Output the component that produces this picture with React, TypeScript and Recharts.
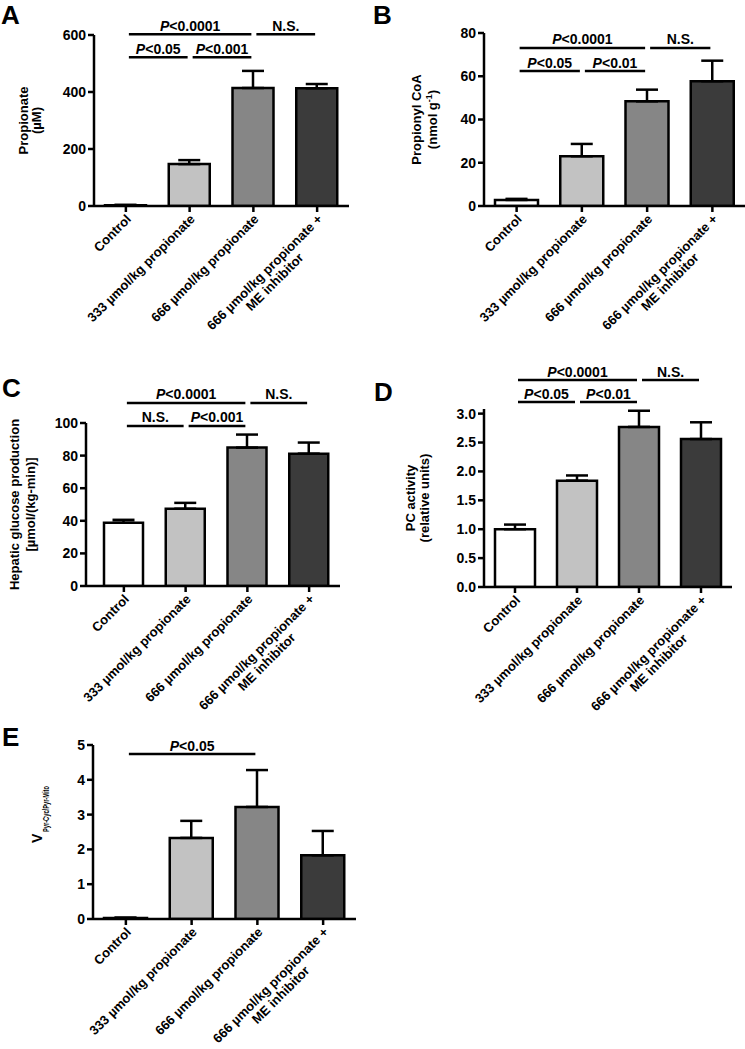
import React from 'react';
import { BarChart, Bar, XAxis, YAxis, ErrorBar, Cell, ReferenceLine } from 'recharts';

const FONT = '"Liberation Sans", Arial, Helvetica, sans-serif';

// ---------- categories ----------
const categories = [
  'Control',
  '333 µmol/kg propionate',
  '666 µmol/kg propionate',
  '666 µmol/kg propionate + ME inhibitor',
];
const categoryLines = [
  ['Control'],
  ['333 µmol/kg propionate'],
  ['666 µmol/kg propionate'],
  ['666 µmol/kg propionate +', 'ME inhibitor'],
];
const barColors = ['#ffffff', '#c2c2c2', '#868686', '#3b3b3b'];

// ---------- A: plasma propionate ----------
const propionateMean = [3, 147, 414, 413];
const propionateSem = [1, 14, 60, 15];
const propionateTicks = [0, 200, 400, 600];
const propionateSig: [number, number, number, string][] = [
  [0, 2, 603, 'P<0.0001'],
  [2, 3, 603, 'N.S.'],
  [0, 1, 522, 'P<0.05'],
  [1, 2, 522, 'P<0.001'],
];

// ---------- B: propionyl CoA ----------
const propionylCoaMean = [2.8, 23, 48.4, 57.7];
const propionylCoaSem = [0.5, 5.7, 5.4, 9.5];
const propionylCoaTicks = [0, 20, 40, 60, 80];
const propionylCoaSig: [number, number, number, string][] = [
  [0, 2, 73.1, 'P<0.0001'],
  [2, 3, 73.1, 'N.S.'],
  [0, 1, 62.4, 'P<0.05'],
  [1, 2, 62.4, 'P<0.01'],
];

// ---------- C: hepatic glucose production ----------
const hgpMean = [38.8, 47.4, 84.9, 81.2];
const hgpSem = [1.8, 3.6, 8.0, 6.8];
const hgpTicks = [0, 20, 40, 60, 80, 100];
const hgpSig: [number, number, number, string][] = [
  [0, 2, 112.3, 'P<0.0001'],
  [2, 3, 112.3, 'N.S.'],
  [0, 1, 98.2, 'N.S.'],
  [1, 2, 98.2, 'P<0.001'],
];

// ---------- D: PC activity ----------
const pcMean = [1.0, 1.84, 2.77, 2.56];
const pcSem = [0.08, 0.09, 0.28, 0.29];
const pcTicks = [0, 0.5, 1.0, 1.5, 2.0, 2.5, 3.0];
const pcSig: [number, number, number, string][] = [
  [0, 2, 3.58, 'P<0.0001'],
  [2, 3, 3.58, 'N.S.'],
  [0, 1, 3.2, 'P<0.05'],
  [1, 2, 3.2, 'P<0.01'],
];

// ---------- E: VPyr-Cyc/Pyr-Mito ----------
const vcycMean = [0.03, 2.33, 3.22, 1.83];
const vcycSem = [0.01, 0.49, 1.06, 0.7];
const vcycTicks = [0, 1, 2, 3, 4, 5];
const vcycSig: [number, number, number, string][] = [[0, 2, 4.74, 'P<0.05']];

const axisStyle = { stroke: '#000', strokeWidth: 2.5 };
const yTickStyle = { fill: '#000', fontSize: 14, fontWeight: 'bold', fontFamily: FONT };

function SigText({ text }: { text: string }) {
  if (text.startsWith('P')) {
    return (
      <>
        <tspan fontStyle="italic">P</tspan>
        <tspan>{text.slice(1)}</tspan>
      </>
    );
  }
  return <>{text}</>;
}

const makeSigShape = (text: string) => (p: any) => {
  const x1 = p.x1 + 3;
  const x2 = p.x2 - 2;
  const y = p.y1;
  return (
    <g>
      <line x1={x1} x2={x2} y1={y} y2={y} stroke="#000" strokeWidth={2.5} />
      <text
        x={(x1 + x2) / 2}
        y={y - 3.5}
        textAnchor="middle"
        fontFamily={FONT}
        fontWeight="bold"
        fontSize={14}
        fill="#000"
      >
        <SigText text={text} />
      </text>
    </g>
  );
};

const XTick = (props: any) => {
  const { x, y, payload } = props;
  const idx = categories.indexOf(payload.value);
  const lines = categoryLines[idx] || [String(payload.value)];
  const common = { fontFamily: FONT, fontWeight: 'bold' as const, fontSize: 13, fill: '#000' };
  return (
    <g transform={`translate(${x + 6},${y + 6}) rotate(-45)`}>
      <text {...common} textAnchor="end" x={0} y={0}>
        {lines[0]}
      </text>
      {lines.length > 1 && (
        <text {...common} textAnchor="middle" x={-78} y={14}>
          {lines[1]}
        </text>
      )}
    </g>
  );
};

const labelText = { textAnchor: 'middle' as const, fontFamily: FONT, fontWeight: 'bold' as const, fontSize: 13, fill: '#000' };

const twoLineLabel = (line1: React.ReactNode, line2: React.ReactNode, off1: number, off2: number) => (props: any) => {
  const vb = props.viewBox;
  const px = vb.x + vb.width;
  const cy = vb.y + vb.height / 2;
  return (
    <g>
      <text {...labelText} transform={`translate(${px + off1},${cy}) rotate(-90)`}>{line1}</text>
      <text {...labelText} transform={`translate(${px + off2},${cy}) rotate(-90)`}>{line2}</text>
    </g>
  );
};

const vLabel = (props: any) => {
  const vb = props.viewBox;
  const px = vb.x + vb.width;
  const cy = vb.y + vb.height / 2;
  return (
    <g>
      <text
        fontFamily={FONT}
        fontWeight="bold"
        fontSize={14}
        fill="#000"
        textAnchor="start"
        transform={`translate(${px - 51},${cy + 11}) rotate(-90)`}
      >
        V
      </text>
      <text
        fontFamily={FONT}
        fontWeight="bold"
        fontSize={9.5}
        fill="#000"
        textAnchor="start"
        textLength={46}
        lengthAdjust="spacingAndGlyphs"
        transform={`translate(${px - 44.5},${cy}) rotate(-90)`}
      >
        Pyr-Cyc/Pyr-Mito
      </text>
    </g>
  );
};

type PanelProps = {
  left: number;
  top: number;
  width: number;
  height: number;
  margin: { top: number; right: number; bottom: number; left: number };
  yWidth: number;
  xHeight: number;
  domain: [number, number];
  ticks: number[];
  mean: number[];
  sem: number[];
  sig: [number, number, number, string][];
  barSize: number;
  yLabel: (p: any) => React.ReactNode;
  xPad?: { left: number; right: number };
  tickFmt?: (v: number) => string;
};

function Panel(props: PanelProps) {
  const data = categories.map((name, i) => ({
    name,
    value: props.mean[i],
    err: [0, props.sem[i]],
  }));
  return (
    <div style={{ position: 'absolute', left: props.left, top: props.top }}>
      <BarChart width={props.width} height={props.height} data={data} margin={props.margin}>
        <XAxis
          dataKey="name"
          interval={0}
          height={props.xHeight}
          tick={<XTick />}
          tickLine={axisStyle}
          axisLine={axisStyle}
          tickSize={6}
          tickMargin={2}
          padding={props.xPad || { left: 0, right: 0 }}
        />
        <YAxis
          type="number"
          domain={props.domain}
          ticks={props.ticks}
          width={props.yWidth}
          tick={yTickStyle}
          tickLine={axisStyle}
          axisLine={axisStyle}
          tickSize={6}
          tickMargin={2}
          interval={0}
          allowDataOverflow
          tickFormatter={props.tickFmt}
          label={props.yLabel}
        />
        <Bar dataKey="value" barSize={props.barSize} stroke="#000" strokeWidth={2.5} isAnimationActive={false}>
          {data.map((d, i) => (
            <Cell key={d.name} fill={barColors[i]} />
          ))}
          <ErrorBar dataKey="err" direction="y" width={11} stroke="#000" strokeWidth={2.5} isAnimationActive={false} />
        </Bar>
        {props.sig.map(([a, b, y, text], i) => (
          <ReferenceLine
            key={i}
            segment={[
              { x: categories[a], y },
              { x: categories[b], y },
            ]}
            ifOverflow="visible"
            shape={makeSigShape(text)}
          />
        ))}
      </BarChart>
    </div>
  );
}

const letters: [string, number, number][] = [
  ['A', 1, 24],
  ['B', 373, 24],
  ['C', 2, 397],
  ['D', 374, 401],
  ['E', 2, 746],
];

export default function App() {
  return (
    <div style={{ position: 'absolute', left: 0, top: 0, width: 745, height: 1049, background: '#fff', overflow: 'hidden' }}>
      <Panel
        left={0}
        top={0}
        width={372}
        height={360}
        margin={{ top: 35, right: 23, bottom: 4, left: 34 }}
        yWidth={60}
        xHeight={150}
        domain={[0, 600]}
        ticks={propionateTicks}
        mean={propionateMean}
        sem={propionateSem}
        sig={propionateSig}
        barSize={41}
        yLabel={twoLineLabel('Propionate', '(µM)', -66, -53)}
      />
      <Panel
        left={372}
        top={0}
        width={373}
        height={360}
        margin={{ top: 33, right: 0, bottom: 4, left: 52 }}
        yWidth={60}
        xHeight={150}
        domain={[0, 80]}
        ticks={propionylCoaTicks}
        mean={propionylCoaMean}
        sem={propionylCoaSem}
        sig={propionylCoaSig}
        barSize={43}
        yLabel={twoLineLabel(
          'Propionyl CoA',
          <>
            <tspan>(nmol g</tspan>
            <tspan dy={-5} fontSize={9}>-1</tspan>
            <tspan dy={5}>)</tspan>
          </>,
          -63.5,
          -47.5
        )}
      />
      <Panel
        left={0}
        top={360}
        width={372}
        height={370}
        margin={{ top: 63, right: 32, bottom: 4, left: 26 }}
        yWidth={60}
        xHeight={140}
        domain={[0, 100]}
        ticks={hgpTicks}
        mean={hgpMean}
        sem={hgpSem}
        sig={hgpSig}
        barSize={39}
        xPad={{ left: 7, right: 0 }}
        yLabel={twoLineLabel('Hepatic glucose production', '[µmol/(kg-min)]', -67.5, -51)}
      />
      <Panel
        left={372}
        top={350}
        width={373}
        height={380}
        margin={{ top: 59, right: 13, bottom: 3, left: 52 }}
        yWidth={60}
        xHeight={140}
        domain={[0, 3.08]}
        ticks={pcTicks}
        mean={pcMean}
        sem={pcSem}
        sig={pcSig}
        barSize={40}
        tickFmt={(v: number) => v.toFixed(1)}
        yLabel={twoLineLabel('PC activity', '(relative units)', -69.5, -55)}
      />
      <Panel
        left={0}
        top={720}
        width={372}
        height={329}
        margin={{ top: 25, right: 16, bottom: 5, left: 33 }}
        yWidth={60}
        xHeight={125}
        domain={[0, 5]}
        ticks={vcycTicks}
        mean={vcycMean}
        sem={vcycSem}
        sig={vcycSig}
        barSize={43}
        yLabel={vLabel}
      />
      <svg width={745} height={1049} style={{ position: 'absolute', left: 0, top: 0, pointerEvents: 'none' }}>
        {letters.map(([t, x, y]) => (
          <text key={t} x={x} y={y} fontFamily={FONT} fontWeight="bold" fontSize={26} fill="#000">
            {t}
          </text>
        ))}
      </svg>
    </div>
  );
}
